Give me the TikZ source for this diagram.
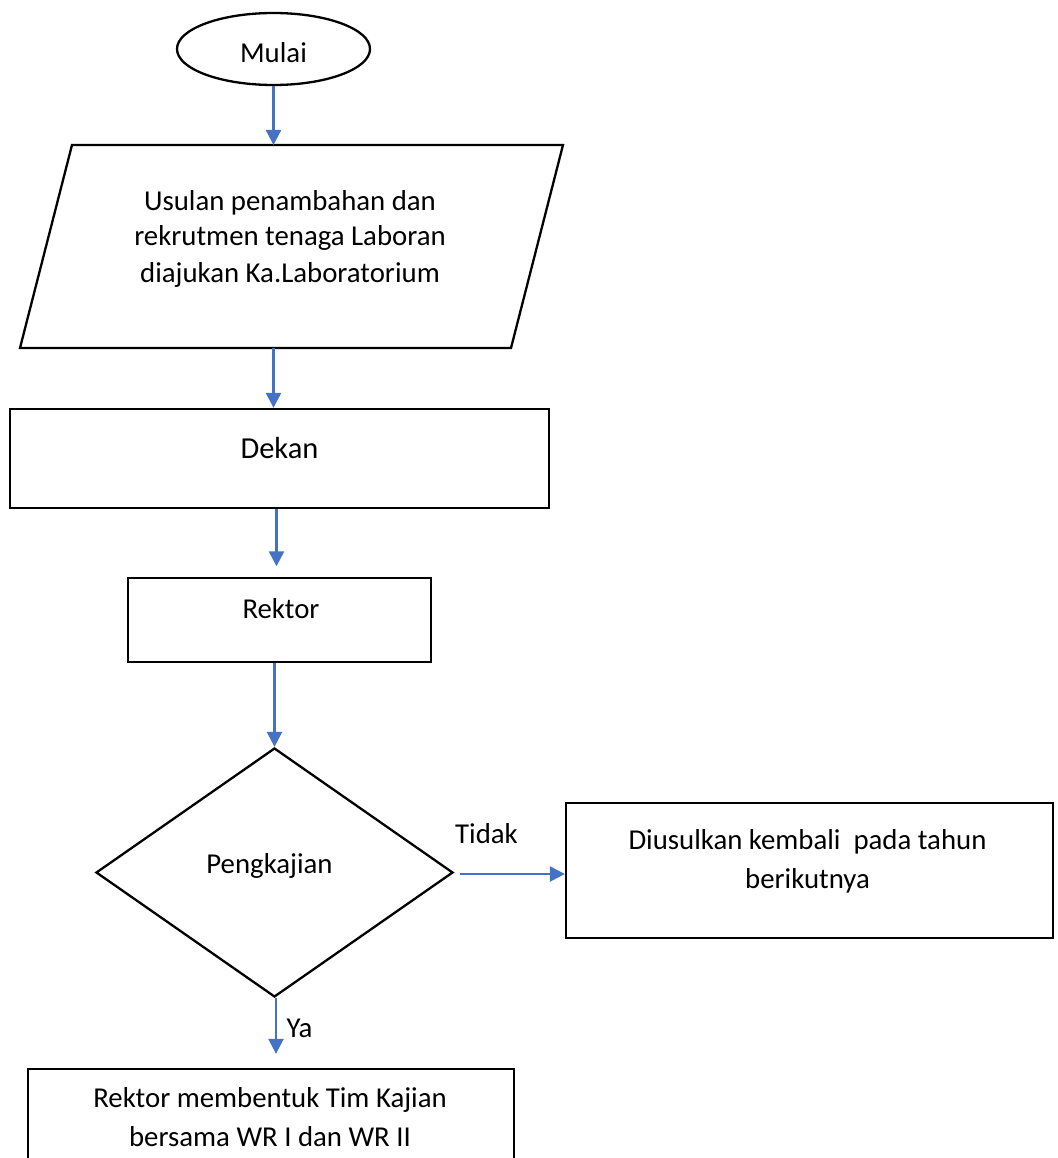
\documentclass[tikz,border=0pt]{standalone}
\usepackage{fontspec}
\setmainfont{Carlito}
\usetikzlibrary{shapes.geometric,arrows.meta,calc}
\definecolor{flowblue}{HTML}{4472C4}
\begin{document}
\begin{tikzpicture}[x=1pt,y=-1pt,
  txt/.style={font=\fontsize{28.8}{36}\selectfont,inner sep=0pt,outer sep=0pt,align=center},
  outline/.style={draw=black,line width=2.3pt,inner sep=0pt},
  boxshape/.style={outline,rectangle,minimum width=#1},
  flow/.style={draw=flowblue,line width=2.4pt,-{Triangle[width=15pt,length=15pt]}}
]
\useasboundingbox (0,0) rectangle (1057,1158);
\clip (0,0) rectangle (1057,1158);

% input parallelogram corners and its connector points
\coordinate (paraTL) at (72,145);
\coordinate (paraTR) at (563,145);
\coordinate (paraBR) at (511,348);
\coordinate (paraBL) at (20,348);
\draw[line width=2.3pt,line join=miter] (paraTL) -- (paraTR) -- (paraBR) -- (paraBL) -- cycle;
\coordinate (paratop) at (273.5,145);
\coordinate (parabot) at (273.5,348);

% shapes
\node[outline,ellipse,minimum width=193pt,minimum height=72pt] (start) at (273.5,49) {};
\node[boxshape=539pt,minimum height=99pt] (dekan) at (279.5,458.5) {};
\node[boxshape=303pt,minimum height=84pt,line width=1.4pt] (rektor) at (279.5,620) {};
\node[outline,diamond,minimum width=357pt,minimum height=249pt,aspect=1.434] (dia) at (274.5,872.5) {};
\node[boxshape=487pt,minimum height=135pt] (tunda) at (809.5,870.5) {};
\node[boxshape=486pt,minimum height=112pt] (tim) at (271,1125) {};

% texts (multi-line nodes sit on the baseline of their last line)
\node[txt,anchor=base] (tstart) at (273.5,63) {Mulai};
\node[txt,anchor=base] (tpara) at (290,282) {Usulan penambahan dan\\rekrutmen tenaga Laboran\\diajukan Ka.Laboratorium};
\node[txt,anchor=base,font=\fontsize{30.5}{36}\selectfont] (tdekan) at (279.5,458) {Dekan};
\node[txt,anchor=base] (trektor) at (281,618) {Rektor};
\node[txt,anchor=base] (tdia) at (269.5,873) {Pengkajian};
\node[txt,anchor=base] (ttidak) at (486.5,843) {Tidak};
\node[txt,anchor=base,font=\fontsize{28.8}{39}\selectfont] (ttunda) at (807.5,888) {Diusulkan kembali\ \ pada tahun\\berikutnya};
\node[txt,anchor=base] (tya) at (299.5,1037) {Ya};
\node[txt,anchor=base,font=\fontsize{28.8}{39}\selectfont] (ttim) at (270,1146) {Rektor membentuk Tim Kajian\\bersama WR I dan WR II};

% connector ends
\coordinate (tidakfrom) at ([xshift=6pt,yshift=-1.5pt]dia.east);
\coordinate (tidakto) at (tunda.west |- tidakfrom);
\coordinate (yafrom) at ([xshift=1.5pt]dia.south);
\coordinate (yato) at ([yshift=14pt]tim.north -| yafrom);

% connectors
\draw[flow] (start.south) -- (paratop);
\draw[flow] (parabot) -- (dekan.north -| parabot);
\draw[flow] ([xshift=-3pt]dekan.south) -- ([xshift=-3pt,yshift=11pt]rektor.north);
\draw[flow] (rektor.south -| dia.north) -- (dia.north);
\draw[flow] (tidakfrom) -- (tidakto);
\draw[flow] (yafrom) -- (yato);
\end{tikzpicture}
\end{document}
